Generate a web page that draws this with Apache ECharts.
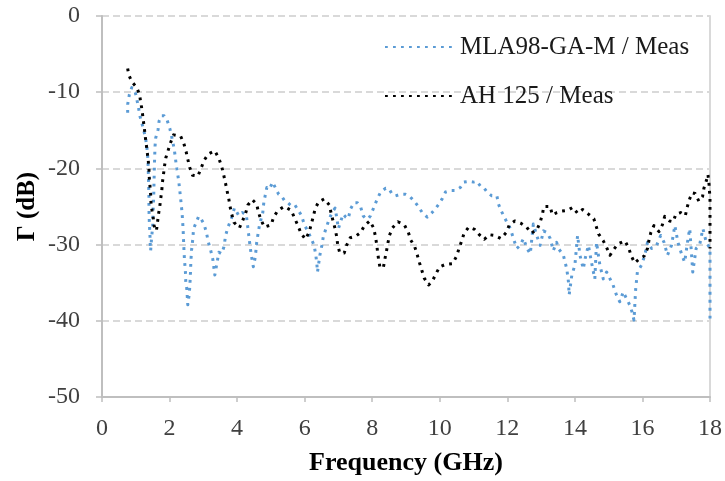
<!DOCTYPE html>
<html>
<head>
<meta charset="utf-8">
<script src="https://cdn.jsdelivr.net/npm/echarts@6/dist/echarts.min.js"></script>
<style>
html,body{margin:0;padding:0;background:#fff;}
#chart{width:725px;height:481px;}
</style>
</head>
<body>
<div id="chart"></div>
<script>
// ---- Data ----
var seriesNames = ['MLA98-GA-M / Meas', 'AH 125 / Meas'];
var xTicks = [0, 2, 4, 6, 8, 10, 12, 14, 16, 18];
var yTicks = [-50, -40, -30, -20, -10, 0];

var freqMLA = [0.76,0.76,0.81,0.88,0.97,1.02,1.08,1.12,1.20,1.29,1.33,1.36,1.37,1.38,1.39,1.39,1.40,1.42,1.43,1.44,1.47,1.50,1.51,1.53,1.54,1.55,1.56,1.57,1.59,1.66,1.69,1.76,1.84,1.93,2.01,2.07,2.14,2.20,2.27,2.32,2.37,2.40,2.42,2.44,2.47,2.48,2.51,2.54,2.58,2.60,2.62,2.63,2.65,2.69,2.71,2.79,2.86,2.94,3.02,3.09,3.15,3.22,3.28,3.34,3.40,3.46,3.54,3.61,3.66,3.73,3.83,3.92,4.05,4.15,4.27,4.31,4.37,4.42,4.48,4.54,4.58,4.62,4.66,4.76,4.79,4.83,4.88,4.96,5.05,5.13,5.23,5.31,5.40,5.50,5.60,5.71,5.81,5.91,5.99,6.09,6.19,6.28,6.33,6.36,6.38,6.45,6.51,6.55,6.63,6.73,6.81,6.90,6.94,7.00,7.07,7.14,7.22,7.29,7.36,7.46,7.56,7.66,7.73,7.81,7.88,7.95,8.05,8.15,8.25,8.40,8.50,8.59,8.69,8.84,8.99,9.09,9.18,9.28,9.38,9.48,9.63,9.77,9.87,9.97,10.07,10.17,10.31,10.46,10.61,10.71,10.86,11.00,11.10,11.20,11.30,11.40,11.54,11.69,11.74,11.81,11.89,11.99,12.09,12.18,12.28,12.38,12.48,12.58,12.68,12.77,12.87,12.97,13.07,13.17,13.27,13.36,13.46,13.51,13.66,13.76,13.81,13.83,13.91,14.00,14.08,14.15,14.25,14.30,14.40,14.49,14.59,14.64,14.74,14.84,14.94,15.04,15.13,15.23,15.33,15.43,15.53,15.62,15.69,15.75,15.80,15.85,15.97,16.07,16.15,16.27,16.42,16.54,16.64,16.74,16.86,16.96,17.05,17.17,17.25,17.35,17.40,17.49,17.59,17.69,17.79,17.89,18.0,18.0,18.0];
var gammaMLA = [-12.7,-11.6,-10.3,-9.4,-9.7,-10.7,-12.0,-13.1,-14.4,-16.0,-17.3,-18.8,-20.3,-21.8,-23.6,-25.3,-26.9,-28.8,-30.1,-30.8,-29.0,-27.7,-25.8,-23.8,-21.8,-19.9,-18.4,-17.1,-16.0,-14.9,-13.8,-13.1,-13.1,-13.7,-14.8,-16.0,-17.5,-19.6,-21.6,-23.6,-25.8,-27.9,-30.1,-31.9,-33.6,-34.9,-35.8,-37.9,-36.6,-35.5,-33.6,-32.3,-30.8,-29.2,-27.9,-27.1,-26.3,-26.7,-27.3,-28.4,-29.7,-30.8,-31.9,-34.0,-32.5,-31.0,-31.2,-30.3,-28.8,-27.7,-26.6,-25.2,-26.2,-25.8,-26.0,-27.5,-29.7,-31.4,-32.9,-31.6,-29.7,-28.6,-27.5,-25.8,-24.5,-23.6,-22.5,-22.7,-21.8,-22.5,-23.4,-23.6,-24.2,-24.5,-24.9,-24.8,-25.5,-26.2,-27.4,-28.2,-29.2,-30.1,-31.4,-32.5,-33.6,-31.4,-30.1,-29.0,-27.9,-26.6,-25.8,-25.2,-26.2,-27.9,-26.9,-26.0,-26.4,-26.6,-25.3,-24.5,-24.5,-25.1,-26.2,-26.6,-26.6,-26.2,-25.1,-24.0,-23.1,-22.6,-22.7,-23.4,-23.6,-23.4,-23.4,-23.6,-24.0,-24.5,-25.1,-25.8,-26.4,-25.8,-25.3,-24.7,-24.0,-23.1,-22.9,-22.9,-22.5,-21.8,-21.7,-21.8,-21.7,-22.3,-22.5,-23.1,-23.6,-23.6,-24.7,-25.5,-26.2,-27.1,-27.9,-29.2,-30.5,-30.1,-29.2,-30.5,-31.2,-27.3,-28.8,-30.1,-28.2,-28.4,-29.2,-30.8,-29.7,-30.5,-31.4,-33.2,-34.9,-36.6,-34.0,-32.7,-28.8,-31.4,-33.2,-31.9,-30.1,-32.3,-34.5,-29.7,-32.7,-34.5,-33.6,-34.5,-35.3,-36.6,-37.5,-36.2,-37.1,-37.9,-38.8,-39.9,-35.8,-33.6,-32.7,-31.4,-29.7,-30.5,-30.1,-28.8,-29.7,-31.4,-30.1,-27.5,-29.7,-31.4,-32.3,-29.2,-27.9,-33.6,-30.5,-30.1,-27.9,-29.7,-30.5,-35.0,-39.7];

var freqAH = [0.76,0.79,0.88,1.03,1.11,1.15,1.19,1.22,1.25,1.28,1.31,1.34,1.37,1.39,1.40,1.42,1.44,1.45,1.48,1.52,1.54,1.61,1.64,1.67,1.71,1.74,1.77,1.79,1.82,1.85,1.89,1.96,2.04,2.12,2.33,2.42,2.49,2.54,2.60,2.68,2.84,2.93,3.03,3.15,3.34,3.46,3.54,3.60,3.65,3.70,3.75,3.79,3.84,3.91,4.07,4.16,4.25,4.32,4.45,4.58,4.63,4.70,4.81,5.01,5.08,5.21,5.40,5.60,5.70,5.80,5.89,6.02,6.13,6.19,6.25,6.31,6.41,6.58,6.73,6.78,6.84,6.90,6.95,6.98,7.04,7.17,7.24,7.35,7.51,7.66,7.77,7.93,8.04,8.09,8.13,8.16,8.19,8.23,8.33,8.37,8.42,8.46,8.51,8.60,8.76,8.95,9.07,9.14,9.26,9.33,9.40,9.47,9.54,9.67,9.78,9.89,10.00,10.17,10.38,10.50,10.57,10.65,10.72,10.86,11.03,11.17,11.32,11.46,11.63,11.81,11.97,12.06,12.22,12.40,12.57,12.70,12.87,12.97,13.04,13.08,13.27,13.33,13.47,13.61,13.79,13.94,14.08,14.23,14.40,14.56,14.63,14.70,14.84,14.94,15.04,15.14,15.28,15.48,15.59,15.67,15.77,15.90,16.05,16.15,16.19,16.25,16.34,16.49,16.59,16.66,16.80,16.91,16.99,17.13,17.27,17.32,17.38,17.47,17.56,17.67,17.78,17.82,17.88,17.94,17.97,18.0,18.0,18.0];
var gammaAH = [-6.9,-7.7,-8.6,-9.4,-10.3,-11.4,-12.5,-13.6,-14.6,-15.8,-16.8,-17.9,-19.0,-20.1,-21.2,-22.3,-23.4,-24.5,-25.5,-26.6,-27.5,-28.2,-27.2,-26.1,-25.0,-23.9,-22.9,-21.8,-20.8,-19.7,-18.6,-17.6,-16.5,-15.6,-15.8,-16.7,-17.8,-18.8,-19.9,-20.9,-21.0,-20.0,-18.9,-18.1,-17.7,-18.7,-19.7,-20.8,-21.8,-22.9,-23.9,-25.0,-26.0,-27.1,-27.8,-26.9,-25.9,-24.8,-24.1,-24.7,-25.7,-26.7,-27.7,-27.4,-26.4,-25.5,-25.0,-25.5,-26.5,-27.5,-28.5,-29.3,-28.4,-27.4,-26.4,-25.3,-24.4,-24.0,-24.8,-25.8,-26.9,-27.9,-29.0,-30.1,-31.1,-31.1,-30.1,-29.1,-28.9,-28.4,-27.5,-26.9,-27.8,-28.8,-29.9,-31.0,-32.0,-33.0,-33.0,-32.0,-30.9,-29.9,-28.8,-27.8,-27.0,-27.4,-28.4,-29.4,-30.3,-31.3,-32.4,-33.4,-34.4,-35.3,-34.8,-33.8,-32.9,-32.6,-32.5,-31.5,-30.5,-29.5,-28.5,-27.7,-28.0,-28.7,-29.3,-28.7,-28.8,-29.2,-28.4,-27.4,-26.9,-27.2,-27.7,-28.5,-28.1,-27.1,-26.0,-25.0,-25.0,-26.1,-25.8,-25.6,-25.5,-25.1,-25.9,-25.4,-26.0,-26.6,-27.6,-28.6,-29.5,-30.4,-31.4,-30.7,-29.9,-29.5,-30.4,-31.5,-32.4,-31.9,-31.5,-30.5,-29.5,-28.4,-27.5,-28.3,-27.4,-26.3,-26.9,-27.0,-26.0,-25.8,-26.2,-25.2,-24.2,-23.2,-23.3,-24.3,-23.7,-22.6,-21.8,-20.8,-22.0,-24.0,-27.0,-30.5];

function zip(xs, ys) { return xs.map(function (x, i) { return [x, ys[i]]; }); }

var FONT = 'Liberation Serif';
var DOT = {width: 3, type: [2.8, 5.2], cap: 'butt', join: 'round'};
var chart = echarts.init(document.getElementById('chart'), null, {renderer: 'canvas'});
chart.setOption({
  animation: false,
  backgroundColor: '#ffffff',
  grid: {left: 102, right: 13, top: 16, bottom: 82, containLabel: false},
  legend: {
    orient: 'vertical',
    left: 384, top: 34, padding: 0,
    itemWidth: 70, itemHeight: 14, itemGap: 23,
    itemStyle: {opacity: 0},
    textStyle: {fontFamily: FONT, fontSize: 25, color: '#1a1a1a', lineHeight: 26},
    data: seriesNames
  },
  xAxis: {
    type: 'value', min: 0, max: 18, interval: 2,
    name: 'Frequency (GHz)', nameLocation: 'middle', nameGap: 53, nameMoveOverlap: false,
    nameTextStyle: {fontFamily: FONT, fontSize: 26, fontWeight: 'bold', color: '#000'},
    axisLine: {show: true, onZero: false, lineStyle: {color: '#BFBFBF', width: 2}},
    axisTick: {show: true, length: 5, lineStyle: {color: '#BFBFBF', width: 1.5}},
    axisLabel: {fontFamily: FONT, fontSize: 24, color: '#404040', margin: 20,
      formatter: function (v) { return xTicks.indexOf(v) >= 0 ? String(v) : ''; }},
    splitLine: {show: false}
  },
  yAxis: [{
    type: 'value', min: -50, max: 0, interval: 10,
    name: 'Γ (dB)', nameLocation: 'middle', nameGap: 62, nameRotate: 90, nameMoveOverlap: false,
    nameTextStyle: {fontFamily: FONT, fontSize: 25, fontWeight: 'bold', color: '#000'},
    axisLine: {show: true, onZero: false, lineStyle: {color: '#BFBFBF', width: 2}},
    axisTick: {show: true, length: 6, lineStyle: {color: '#BFBFBF', width: 1.5}},
    axisLabel: {fontFamily: FONT, fontSize: 24, color: '#404040', margin: 22,
      formatter: function (v) { return yTicks.indexOf(v) >= 0 ? String(v) : ''; }},
    splitLine: {show: true, lineStyle: {color: '#D9D9D9', width: 2, type: [7, 4]}}
  }, {
    type: 'value', min: -50, max: 0, interval: 10, position: 'right',
    axisLine: {show: true, onZero: false, lineStyle: {color: '#D9D9D9', width: 2}},
    axisTick: {show: false}, axisLabel: {show: false}, splitLine: {show: false}
  }],
  series: [{
    name: seriesNames[0], type: 'line', data: zip(freqMLA, gammaMLA),
    showSymbol: false, symbol: 'none', smooth: false,
    color: '#5B9BD5',
    lineStyle: Object.assign({color: '#5B9BD5'}, DOT)
  }, {
    name: seriesNames[1], type: 'line', data: zip(freqAH, gammaAH),
    showSymbol: false, symbol: 'none', smooth: false,
    color: '#000000',
    lineStyle: Object.assign({color: '#000000'}, DOT)
  }]
});
</script>
</body>
</html>
